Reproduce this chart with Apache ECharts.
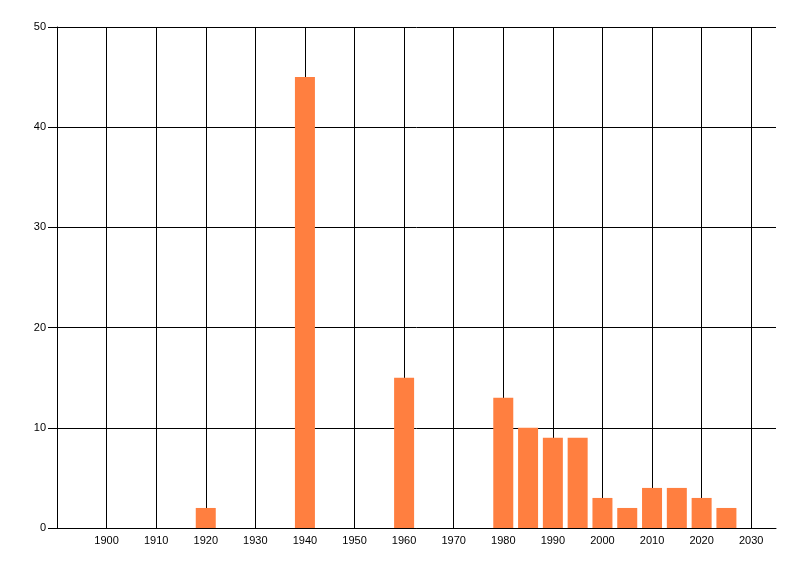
<!DOCTYPE html>
<html>
<head>
<meta charset="utf-8">
<script src="https://cdn.jsdelivr.net/npm/echarts@6/dist/echarts.min.js"></script>
<style>
    html, body { margin: 0; padding: 0; background: #fff; }
    #main { width: 800px; height: 576px; }
</style>
</head>
<body>
<div id="main"></div>
<script type="text/javascript">
    // data
    var years = [1920, 1940, 1960, 1980, 1985, 1990, 1995, 2000, 2005, 2010, 2015, 2020, 2025];
    var counts = [2, 45, 15, 13, 10, 9, 9, 3, 2, 4, 4, 3, 2];

    var points = [];
    for (var i = 0; i < years.length; i++) {
        points.push([years[i], counts[i]]);
    }

    var myChart = echarts.init(document.getElementById('main'));
    myChart.setOption({
        animation: false,
        grid: { left: 57, top: 27, right: 24, bottom: 48 },
        xAxis: {
            type: 'value',
            min: 1890,
            max: 2035,
            interval: 10,
            axisLine: { show: true, onZero: false, lineStyle: { color: '#000', width: 1 } },
            axisTick: { show: false },
            axisLabel: {
                showMinLabel: false,
                showMaxLabel: false,
                margin: 7,
                color: '#000',
                fontSize: 11,
                fontFamily: 'Liberation Sans',
                formatter: function (v) { return String(v); }
            },
            splitLine: { show: true, showMaxLine: false, lineStyle: { color: '#000', width: 1 } }
        },
        yAxis: {
            type: 'value',
            min: 0,
            max: 50,
            interval: 10,
            axisLine: { show: true, lineStyle: { color: '#000', width: 1 } },
            axisTick: { show: true, length: 9, lineStyle: { color: '#000' } },
            axisLabel: {
                margin: 11,
                color: '#000',
                fontSize: 11,
                fontFamily: 'Liberation Sans'
            },
            splitLine: { show: true, lineStyle: { color: '#000', width: 1 } }
        },
        series: [{
            type: 'bar',
            data: points,
            barWidth: 20,
            itemStyle: { color: '#ff7f40' }
        }]
    });
</script>
</body>
</html>
